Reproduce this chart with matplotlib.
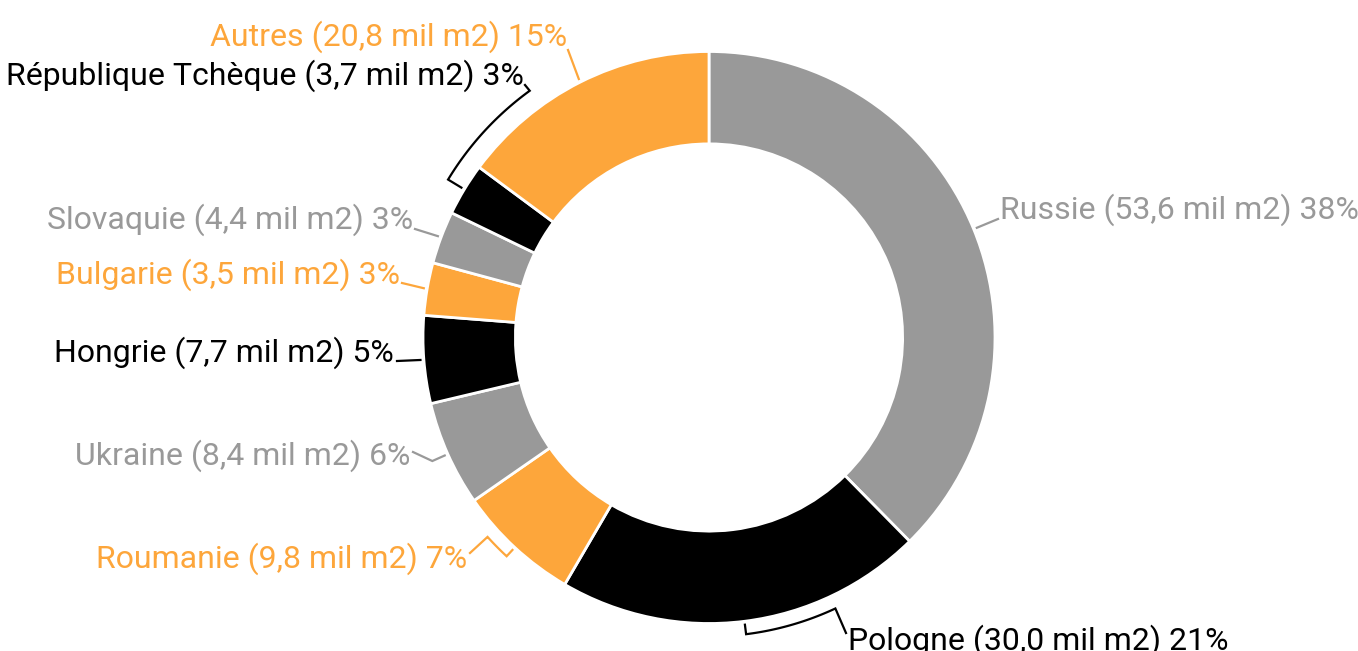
import numpy as np
import matplotlib.pyplot as plt

plt.rcParams['font.family'] = ['Roboto', 'DejaVu Sans']

# data
countries = ["Russie", "Pologne", "Roumanie", "Ukraine", "Hongrie",
             "Bulgarie", "Slovaquie", "République Tchèque", "Autres"]
surface = ["53,6", "30,0", "9,8", "8,4", "7,7", "3,5", "4,4", "3,7", "20,8"]
share = [38, 21, 7, 6, 5, 3, 3, 3, 15]

GRAY = "#999999"
ORANGE = "#FDA63B"
BLACK = "#000000"
colors = [GRAY, BLACK, ORANGE, GRAY, BLACK, ORANGE, GRAY, BLACK, ORANGE]

# figure layout (pixels): centre of donut and outer radius
W, H = 1358, 651
CX, CY, R = 709, 337.5, 286


def to_data(px, py):
    return (px - CX) / R, (CY - py) / R


# label layout in pixels: x, baseline y, ha, connector end offset, bracket (radius px, bend angle)
label_pos = [
    (1000, 219, "left", (-2, 0), None),
    (848, 650, "left", (-2, -17), (299, -65)),
    (467, 568, "right", (3, -15), (298, -138)),
    (410, 465, "right", (3, -13), (303, None)),
    (394, 362, "right", (3, -1), None),
    (400, 284, "right", (2, -1), None),
    (413, 229, "right", (2, 0), None),
    (524, 85, "right", (1, 0), (305, 126)),
    (567, 46, "right", (1, 4), None),
]

fig = plt.figure(figsize=(W / 100, H / 100), dpi=100)
ax = fig.add_axes([0, 0, 1, 1])

wedges, _ = ax.pie(share, colors=colors, startangle=90, counterclock=False,
                   radius=1, wedgeprops=dict(width=0.323, edgecolor="white", linewidth=2))

for w, name, surf, pct, col, (lx, ly, ha, off, bracket) in zip(
        wedges, countries, surface, share, colors, label_pos):
    mid_deg = (w.theta1 + w.theta2) / 2
    mid = np.deg2rad(mid_deg)
    pts = [(1.012 * np.cos(mid), 1.012 * np.sin(mid))]
    if bracket is not None:
        rb = bracket[0] / R
        if bracket[1] is None:
            bend_deg = mid_deg
        else:
            bend_deg = bracket[1]
            while bend_deg - mid_deg > 180:
                bend_deg -= 360
            while bend_deg - mid_deg < -180:
                bend_deg += 360
        arc = np.deg2rad(np.linspace(mid_deg, bend_deg, 30))
        pts += [(rb * np.cos(a), rb * np.sin(a)) for a in arc]
    pts.append(to_data(lx + off[0], ly + off[1]))
    pts = np.array(pts)
    ax.plot(pts[:, 0], pts[:, 1], color=col, lw=1.6, solid_joinstyle="miter")

    tx, ty = to_data(lx, ly)
    ax.text(tx, ty, f"{name} ({surf} mil m2) {pct}%", ha=ha, va="baseline",
            color=col, fontsize=23)

ax.set_xlim(-CX / R, (W - CX) / R)
ax.set_ylim(-(H - CY) / R, CY / R)
ax.set_aspect("equal")
ax.axis("off")

plt.savefig("out.png", dpi=100)
